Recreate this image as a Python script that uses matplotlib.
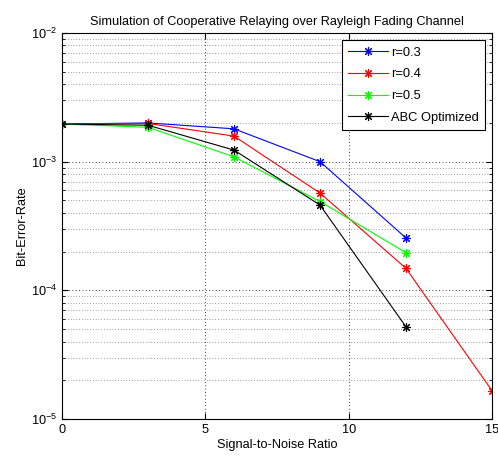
import matplotlib
matplotlib.use("Agg")
import matplotlib.pyplot as plt
from matplotlib.ticker import LogLocator

plt.rcParams['font.family'] = ['Liberation Sans Narrow', 'Liberation Sans', 'DejaVu Sans']
plt.rcParams['mathtext.fontset'] = 'custom'
plt.rcParams['mathtext.rm'] = 'Liberation Sans'

snr = [0, 3, 6, 9, 12, 15]
ber_r03 = [1.96e-3, 2.0e-3, 1.8e-3, 1.0e-3, 2.55e-4]
ber_r04 = [1.96e-3, 1.98e-3, 1.58e-3, 5.7e-4, 1.48e-4, 1.66e-5]
ber_r05 = [1.96e-3, 1.85e-3, 1.09e-3, 4.9e-4, 1.96e-4]
ber_abc = [1.96e-3, 1.92e-3, 1.23e-3, 4.6e-4, 5.2e-5]

labels = ['r=0.3', 'r=0.4', 'r=0.5', 'ABC Optimized']
colors = ['#0000ff', '#ff0000', '#00ff00', '#000000']
series = [ber_r03, ber_r04, ber_r05, ber_abc]

fig = plt.figure(figsize=(4.98, 4.62), dpi=100)
ax = fig.add_axes([0.1245, 0.093, 0.8635, 0.8356])

for ys, c, lab in zip(series, colors, labels):
    ax.semilogy(snr[:len(ys)], ys, color=c, marker=(8, 2, 0), markersize=6.5, linewidth=0.8,
                markeredgewidth=0.8, label=lab)

ax.set_xlim(0, 15)
ax.set_ylim(1e-5, 1e-2)
ax.set_xticks([0, 5, 10, 15])
ax.yaxis.set_major_locator(LogLocator(base=10, numticks=10))
ax.yaxis.set_minor_locator(LogLocator(base=10, subs=range(2, 10), numticks=10))

gridstyle = (0, (1, 3))
ax.grid(True, which='major', axis='both', linestyle=gridstyle, color='black', linewidth=0.6)
ax.grid(True, which='minor', axis='y', linestyle=gridstyle, color='#444444', linewidth=0.5)

ax.tick_params(which='both', direction='in', top=True, right=True, labelsize=9.2)
ax.tick_params(which='major', length=4)
ax.tick_params(which='minor', length=2)
for s in ax.spines.values():
    s.set_linewidth(0.8)

ax.set_title('Simulation of Cooperative Relaying over Rayleigh Fading Channel', fontsize=9.2, pad=6)
ax.set_xlabel('Signal-to-Noise Ratio', fontsize=9.2, labelpad=2)
ax.set_ylabel('Bit-Error-Rate', fontsize=9.2, labelpad=2)

leg = ax.legend(loc='upper right', fontsize=9.3, fancybox=False, framealpha=1,
                edgecolor='black', borderaxespad=0.55, handlelength=3.1, labelspacing=0.75,
                handletextpad=0.2, borderpad=0.5)
leg.get_frame().set_linewidth(0.8)

fig.savefig('out.png', dpi=100, facecolor='white')
